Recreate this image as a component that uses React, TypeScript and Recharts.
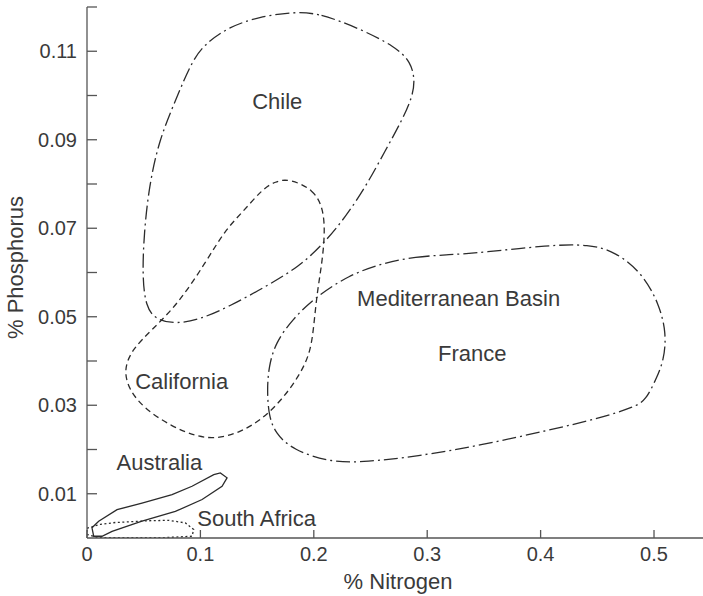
import React from "react"
import { ComposedChart, Line, Scatter, XAxis, YAxis } from "recharts"

// region outlines, [% nitrogen, % phosphorus]
const chile: [number, number][] = [
  [0.1825, 0.1189], [0.2046, 0.1186], [0.2399, 0.1152], [0.2722, 0.111], [0.2855, 0.1076],
  [0.2892, 0.1035], [0.2869, 0.0997], [0.278, 0.0945], [0.2634, 0.0877], [0.2458, 0.0794],
  [0.2281, 0.0726], [0.209, 0.0666], [0.1869, 0.0613], [0.1576, 0.0568], [0.1252, 0.0523],
  [0.0988, 0.0493], [0.0782, 0.0484], [0.0606, 0.0493], [0.0518, 0.0523], [0.0488, 0.0591],
  [0.0503, 0.0689], [0.0547, 0.0794], [0.0635, 0.0899], [0.0782, 0.099], [0.0929, 0.108],
  [0.1047, 0.1118], [0.1252, 0.1155], [0.1517, 0.1178],
]

const mediterranean: [number, number][] = [
  [0.2604, 0.0621], [0.2898, 0.0636], [0.3192, 0.064], [0.3486, 0.0645], [0.4074, 0.0662],
  [0.4427, 0.0664], [0.4662, 0.0647], [0.4897, 0.0598], [0.5044, 0.053], [0.5109, 0.0463],
  [0.5088, 0.0402], [0.5015, 0.0357], [0.4927, 0.0312], [0.4838, 0.0297], [0.4515, 0.027],
  [0.4074, 0.0244], [0.3486, 0.021], [0.2898, 0.0184], [0.2458, 0.0172], [0.2163, 0.017],
  [0.181, 0.0199], [0.1662, 0.0237], [0.1603, 0.0275], [0.1588, 0.0335], [0.1603, 0.0388],
  [0.1662, 0.0441], [0.181, 0.0494], [0.2017, 0.0545], [0.231, 0.0594],
]

const california: [number, number][] = [
  [0.178, 0.0812], [0.2, 0.0788], [0.2088, 0.0742], [0.2097, 0.0682], [0.2068, 0.0614],
  [0.2029, 0.0554], [0.2, 0.0479], [0.197, 0.0418], [0.1868, 0.0365], [0.172, 0.0313],
  [0.1544, 0.0268], [0.1338, 0.0237], [0.1132, 0.0224], [0.0956, 0.023], [0.075, 0.0252],
  [0.0515, 0.029], [0.0368, 0.0335], [0.0324, 0.0381], [0.0397, 0.0426], [0.0574, 0.0471],
  [0.0809, 0.0531], [0.1044, 0.0622], [0.1221, 0.0697], [0.1368, 0.0735], [0.1544, 0.0788],
  [0.1662, 0.0806],
]

const australia: [number, number][] = [
  [0.0044, 0.0023], [0.0103, 0.0038], [0.0265, 0.0064], [0.0485, 0.0079], [0.075, 0.0098],
  [0.0926, 0.0117], [0.1118, 0.0143], [0.1176, 0.0147], [0.1235, 0.0136], [0.1191, 0.0117],
  [0.1015, 0.0087], [0.0779, 0.006], [0.0485, 0.0038], [0.0221, 0.0015], [0.0132, 0.0004],
  [0.0059, 0.0004],
]

const southAfrica: [number, number][] = [
  [0.0, 0.0022], [0.012, 0.0031], [0.025, 0.0035], [0.0544, 0.0039], [0.0721, 0.004],
  [0.0868, 0.0034], [0.0941, 0.0019], [0.0926, 0.0004], [0.07, 0.0001], [0.04, 0.0001],
  [0.01, 0.0001], [0.0, 0.0008],
]

const regionLabels = [
  { name: "Chile", n: 0.1678, p: 0.0986 },
  { name: "Mediterranean Basin", n: 0.3277, p: 0.0542 },
  { name: "France", n: 0.3398, p: 0.0416 },
  { name: "California", n: 0.0835, p: 0.0353 },
  { name: "Australia", n: 0.0638, p: 0.017 },
  { name: "South Africa", n: 0.1496, p: 0.00445 },
]

const xTicks = [0, 0.1, 0.2, 0.3, 0.4, 0.5]
const xTickLabels = ["0", "0.1", "0.2", "0.3", "0.4", "0.5"]
const yTicks = [0.01, 0.02, 0.03, 0.04, 0.05, 0.06, 0.07, 0.08, 0.09, 0.1, 0.11, 0.12]
const yTickLabels = ["0.01", "", "0.03", "", "0.05", "", "0.07", "", "0.09", "", "0.11", ""]

const FONT = '"Liberation Sans", Arial, Helvetica, sans-serif'
const INK = "#2b2b2b"
const TEXT = "#3a3a3a"

const toRows = (pts: [number, number][]) => pts.map(([n, p]) => ({ n, p }))

const outlines = [
  { key: "chile", pts: chile, dash: "14 4 2 4", type: "basisClosed" },
  { key: "med", pts: mediterranean, dash: "14 4 2 4", type: "basisClosed" },
  { key: "cal", pts: california, dash: "6 4", type: "basisClosed" },
  { key: "aus", pts: australia, dash: undefined, type: "linearClosed" },
  { key: "saf", pts: southAfrica, dash: "2 2.5", type: "linearClosed" },
]

const RegionLabel = (props: any) => (
  <text
    x={props.cx}
    y={props.cy}
    textAnchor="middle"
    dominantBaseline="central"
    fontSize={22}
    fontFamily={FONT}
    fill={TEXT}
  >
    {props.payload.name}
  </text>
)

export default function App() {
  return (
    <div style={{ position: "absolute", left: 0, top: 0, width: 703, height: 596, background: "#fff" }}>
      <ComposedChart width={703} height={596} margin={{ top: 7, right: 0, bottom: 0, left: 0 }}>
        <XAxis
          type="number"
          dataKey="n"
          domain={[0, 0.5432]}
          ticks={xTicks}
          interval={0}
          allowDataOverflow
          tickFormatter={(_v: number, i: number) => xTickLabels[i]}
          tickSize={-8}
          tickMargin={17}
          height={58}
          tick={{ fontSize: 20, fill: TEXT, fontFamily: FONT }}
          axisLine={{ stroke: "#555", strokeWidth: 1.3 }}
          tickLine={{ stroke: "#555", strokeWidth: 1.3 }}
          label={{
            content: ({ viewBox }: any) => (
              <text
                x={viewBox.x + viewBox.width / 2 + 3}
                y={viewBox.y + 51}
                textAnchor="middle"
                fontSize={22}
                fontFamily={FONT}
                fill={TEXT}
              >
                % Nitrogen
              </text>
            ),
          }}
        />
        <YAxis
          type="number"
          dataKey="p"
          domain={[0, 0.12]}
          ticks={yTicks}
          interval={0}
          allowDataOverflow
          tickFormatter={(_v: number, i: number) => yTickLabels[i]}
          tickSize={-10}
          tickMargin={20}
          width={87}
          tick={{ fontSize: 20, fill: TEXT, fontFamily: FONT }}
          axisLine={{ stroke: "#555", strokeWidth: 1.3 }}
          tickLine={{ stroke: "#555", strokeWidth: 1.3 }}
          label={{
            content: ({ viewBox }: any) => {
              const cx = 23
              const cy = viewBox.y + viewBox.height / 2 - 5
              return (
                <text
                  x={cx}
                  y={cy}
                  transform={`rotate(-90, ${cx}, ${cy})`}
                  textAnchor="middle"
                  fontSize={22}
                  fontFamily={FONT}
                  fill={TEXT}
                >
                  % Phosphorus
                </text>
              )
            },
          }}
        />
        {outlines.map((o) => (
          <Line
            key={o.key}
            data={toRows(o.pts)}
            dataKey="p"
            type={o.type as any}
            stroke={INK}
            strokeWidth={1.3}
            strokeDasharray={o.dash}
            dot={false}
            activeDot={false}
            isAnimationActive={false}
            legendType="none"
          />
        ))}
        <Scatter data={regionLabels} dataKey="p" shape={RegionLabel} isAnimationActive={false} />
      </ComposedChart>
    </div>
  )
}
